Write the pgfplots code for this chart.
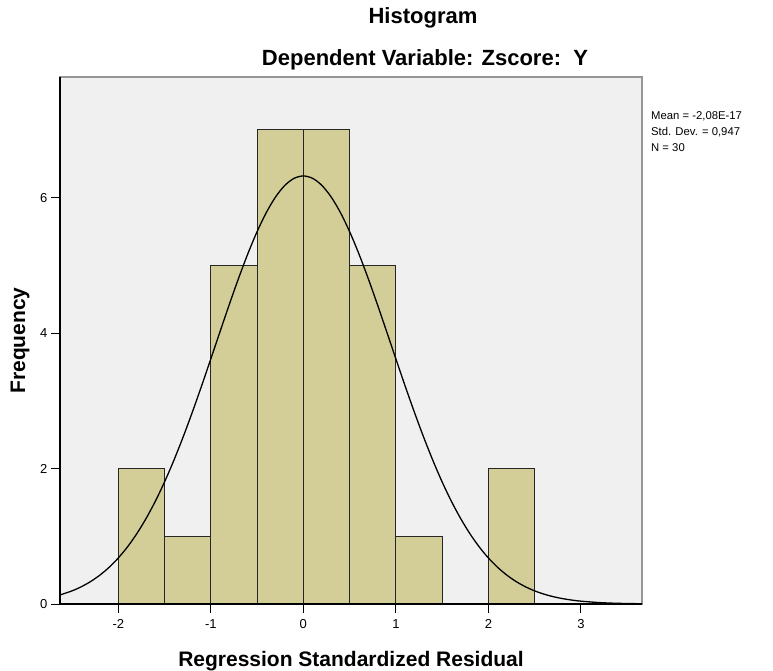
\documentclass[border=0pt]{standalone}
\usepackage{fontspec}
\setmainfont{Liberation Sans}
\usepackage{pgfplots}
\pgfplotsset{compat=1.18}
\definecolor{bargold}{RGB}{211,206,151}
\definecolor{plotbg}{RGB}{240,240,240}
\definecolor{framegray}{RGB}{150,150,150}
\begin{document}
\begin{tikzpicture}[x=1pt,y=1pt]
\useasboundingbox (0,0) rectangle (773,671);
\begin{axis}[at={(60pt,67pt)}, anchor=south west, scale only axis,
  width=582pt, height=527pt,
  xmin=-2.63, xmax=3.66, ymin=0, ymax=7.78,
  axis background/.style={fill=plotbg},
  axis line style={draw=framegray, line width=1.2pt},
  xtick={-2,-1,0,1,2,3}, ytick={0,2,4,6},
  tick align=outside, xtick pos=bottom, ytick pos=left,
  major tick length=9pt, tick style={black, line width=0.9pt},
  ticklabel style={font=\fontsize{13}{15}\selectfont},
  xticklabel style={yshift=-3pt},
  /pgf/number format/assume math mode=true,
  xlabel={Regression Standardized Residual}, ylabel={Frequency},
  label style={font=\bfseries\fontsize{21}{24}\selectfont},
  xlabel style={at={(axis description cs:0.5,-0.1195)}, anchor=base},
  ylabel style={at={(axis description cs:-0.0601,0.5)}, anchor=base},
  clip=false,
]
\addplot[ybar interval, fill=bargold, draw=black!85, line width=0.9pt]
  coordinates {(-2,2) (-1.5,1) (-1,5) (-0.5,7) (0,7) (0.5,5) (1,1) (1.5,0) (2,2) (2.5,2)};
\addplot[smooth, black, line width=1.3pt, no marks] coordinates {
(-2.63,0.1336) (-2.5,0.1938) (-2.4,0.2546) (-2.3,0.3310) (-2.2,0.4254) (-2.1,0.5406)
(-2.0,0.6793) (-1.9,0.8444) (-1.8,1.0380) (-1.7,1.2616) (-1.6,1.5163) (-1.5,1.8023)
(-1.4,2.1187) (-1.3,2.4630) (-1.2,2.8314) (-1.1,3.2186) (-1.0,3.6185) (-0.9,4.0227)
(-0.8,4.4226) (-0.7,4.8085) (-0.6,5.1700) (-0.5,5.4969) (-0.4,5.7798) (-0.3,6.0098)
(-0.2,6.1797) (-0.1,6.2839) (0,6.3190) (0.1,6.2839) (0.2,6.1797) (0.3,6.0098)
(0.4,5.7798) (0.5,5.4969) (0.6,5.1700) (0.7,4.8085) (0.8,4.4226) (0.9,4.0227)
(1.0,3.6185) (1.1,3.2186) (1.2,2.8314) (1.3,2.4630) (1.4,2.1187) (1.5,1.8023)
(1.6,1.5163) (1.7,1.2616) (1.8,1.0380) (1.9,0.8444) (2.0,0.6793) (2.1,0.5406)
(2.2,0.4254) (2.3,0.3310) (2.4,0.2546) (2.5,0.1938) (2.6,0.1458) (2.7,0.1085)
(2.8,0.0799) (2.9,0.0581) (3.0,0.0419) (3.2,0.0209) (3.4,0.0100) (3.66,0.0036)};
\draw[black, line width=1.3pt] (rel axis cs:0,1) -- (rel axis cs:0,0) -- (rel axis cs:1,0);
\end{axis}
\node[anchor=base, font=\bfseries\fontsize{22}{25}\selectfont] at (423,647) {Histogram};
\node[anchor=base, font=\bfseries\fontsize{22}{25}\selectfont] at (425,605) {Dependent Variable: Zscore:\ \ Y};
\node[anchor=north west, align=left, font=\fontsize{11.3}{16}\selectfont, inner sep=0pt] at (651,560)
  {Mean = -2,08E-17\\Std. Dev. = 0,947\\N = 30};
\end{tikzpicture}
\end{document}
